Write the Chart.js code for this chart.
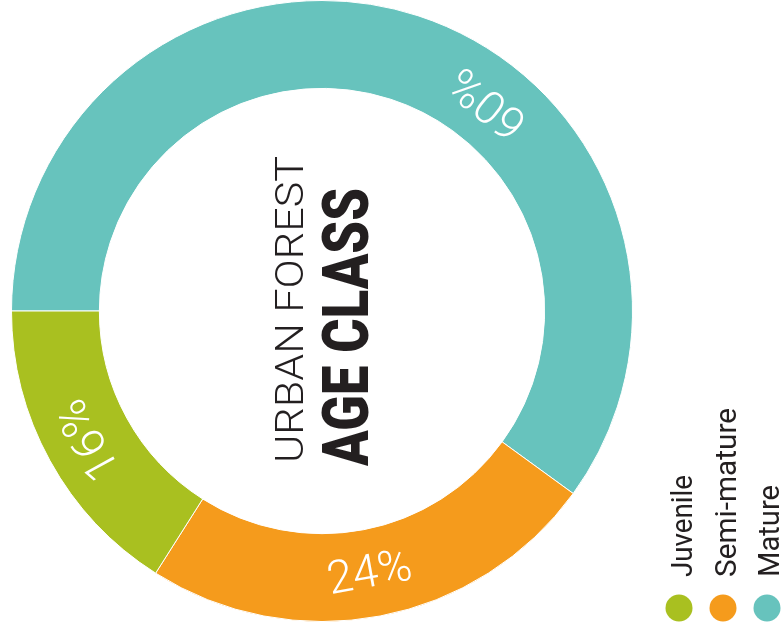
<!DOCTYPE html>
<html><head><meta charset="utf-8">
<script src="https://cdn.jsdelivr.net/npm/chart.js@4.4.1/dist/chart.umd.min.js"></script>
<style>html,body{margin:0;padding:0;background:#fff;overflow:hidden}#wrap{position:relative;width:781px;height:632px;}</style>
</head><body><div id="wrap"><canvas id="c"></canvas></div>
<script>
// ---- data ----
const categories = ['Mature', 'Semi-mature', 'Juvenile'];
const shares = [60, 24, 16];
const percentLabels = ['60%', '24%', '16%'];
const legendOrder = ['Juvenile', 'Semi-mature', 'Mature'];
const titleLine1 = 'URBAN FOREST';
const titleLine2 = 'AGE CLASS';

// ---- style ----
const colors = { 'Mature': '#67C3BD', 'Semi-mature': '#F59B1C', 'Juvenile': '#A9C020' };
const labelStyle = {
  'Mature': { shiftDeg: 20.5, flip: true },
  'Semi-mature': { shiftDeg: 0.5, flip: true },
  'Juvenile': { shiftDeg: 0, flip: false }
};

function fitText(ctx, text, x, y, angle, font, targetLen, color) {
  ctx.save();
  ctx.font = font;
  ctx.fillStyle = color;
  ctx.textAlign = 'left';
  ctx.textBaseline = 'alphabetic';
  const w = ctx.measureText(text).width;
  ctx.translate(x, y);
  ctx.rotate(angle);
  ctx.scale(targetLen / w, 1);
  ctx.fillText(text, 0, 0);
  ctx.restore();
}

const overlay = {
  id: 'overlay',
  afterDatasetsDraw(chart) {
    const ctx = chart.ctx;
    const meta = chart.getDatasetMeta(0);
    let cx = 0, cy = 0;
    meta.data.forEach((arc, i) => {
      const p = arc.getProps(['x', 'y', 'startAngle', 'endAngle', 'innerRadius', 'outerRadius'], true);
      cx = p.x; cy = p.y;
      const st = labelStyle[categories[i]];
      const a = (p.startAngle + p.endAngle) / 2 + st.shiftDeg * Math.PI / 180;
      const r = (p.innerRadius + p.outerRadius) / 2;
      ctx.save();
      ctx.translate(p.x + Math.cos(a) * r, p.y + Math.sin(a) * r);
      ctx.rotate(a + Math.PI / 2 + (st.flip ? Math.PI : 0));
      ctx.font = '300 46px Roboto';
      ctx.fillStyle = '#ffffff';
      ctx.textAlign = 'center';
      ctx.textBaseline = 'middle';
      ctx.fillText(percentLabels[i], 0, 2);
      ctx.restore();
    });
    // centre title
    fitText(ctx, titleLine1, cx - 19, cy + 152, -Math.PI / 2, '300 39px Roboto', 307, '#231f20');
    fitText(ctx, titleLine2, cx + 46, cy + 155, -Math.PI / 2, '900 64px Roboto', 278, '#231f20');
    // legend
    const legendLens = { 'Juvenile': 102, 'Semi-mature': 169, 'Mature': 92 };
    legendOrder.forEach((name, k) => {
      const bx = 692 + k * 43.5;
      fitText(ctx, name, bx, 577, -Math.PI / 2, '400 30px Roboto', legendLens[name], '#231f20');
      ctx.save();
      ctx.beginPath();
      ctx.arc(679 + k * 44, 608, 13.5, 0, Math.PI * 2);
      ctx.fillStyle = colors[name];
      ctx.fill();
      ctx.restore();
    });
  }
};

new Chart(document.getElementById('c'), {
  type: 'doughnut',
  data: {
    labels: categories,
    datasets: [{
      data: shares,
      backgroundColor: categories.map(c => colors[c]),
      borderColor: '#ffffff',
      borderWidth: 1,
      hoverOffset: 0
    }]
  },
  options: {
    responsive: true,
    maintainAspectRatio: false,
    animation: false,
    rotation: 270,
    cutout: '71.7%',
    layout: { padding: { left: 11, right: 148, top: 0, bottom: 10 } },
    plugins: { legend: { display: false }, tooltip: { enabled: false } }
  },
  plugins: [overlay]
});
</script>
</body></html>
